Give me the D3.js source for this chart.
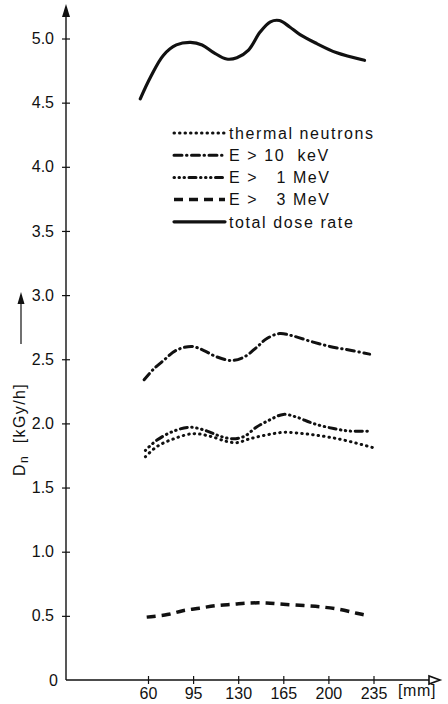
<!DOCTYPE html>
<html>
<head>
<meta charset="utf-8">
<script src="https://cdn.jsdelivr.net/npm/d3@7/dist/d3.min.js"></script>
<style>
  body { margin: 0; background: #fff; }
  svg { display: block; font-family: 'Liberation Sans', Arial, sans-serif; }
  text { fill: #111; }
</style>
</head>
<body>
<svg id="chart" width="448" height="704"></svg>
<script>
'use strict';

// tick values and their printed labels
var xTicks = [60, 95, 130, 165, 200, 235];
var yTicks = [0, 0.5, 1, 1.5, 2, 2.5, 3, 3.5, 4, 4.5, 5];
var yTickLabels = ['0', '0.5', '1.0', '1.5', '2.0', '2.5', '3.0', '3.5', '4.0', '4.5', '5.0'];

// dose rate curves (position in mm, dose in kGy/h)
var totalPos = [54, 62, 72, 82, 93, 102, 111, 121, 129, 138, 147, 155, 162, 170, 178, 191, 206, 228];
var totalDose = [4.53, 4.70, 4.87, 4.95, 4.97, 4.95, 4.89, 4.84, 4.85, 4.91, 5.05, 5.13, 5.14, 5.09, 5.03, 4.96, 4.89, 4.83];

var kev10Pos = [57, 64, 72, 82, 94, 103, 113, 125, 135, 144, 152, 162, 173, 186, 201, 217, 232];
var kev10Dose = [2.34, 2.42, 2.49, 2.57, 2.60, 2.57, 2.52, 2.49, 2.52, 2.59, 2.66, 2.70, 2.68, 2.64, 2.60, 2.57, 2.54];

var mev1Pos = [58, 67, 80, 93, 106, 116, 126, 135, 144, 155, 165, 175, 188, 204, 217, 231];
var mev1Dose = [1.79, 1.87, 1.94, 1.97, 1.94, 1.90, 1.88, 1.90, 1.97, 2.03, 2.07, 2.05, 2.00, 1.96, 1.94, 1.94];

var thermalPos = [58, 67, 80, 95, 108, 121, 129, 139, 152, 165, 181, 196, 212, 235];
var thermalDose = [1.74, 1.82, 1.88, 1.92, 1.90, 1.86, 1.85, 1.88, 1.91, 1.93, 1.92, 1.90, 1.87, 1.81];

var mev3Pos = [59, 75, 87, 100, 113, 126, 139, 152, 165, 181, 194, 209, 222, 232];
var mev3Dose = [0.49, 0.51, 0.54, 0.56, 0.58, 0.59, 0.60, 0.60, 0.59, 0.58, 0.57, 0.55, 0.52, 0.50];

var legendLabels = ['thermal neutrons', 'E > 10  keV', 'E >   1 MeV', 'E >   3 MeV', 'total dose rate'];

// line styles, in legend order
var styles = [
  { dash: '0.5,5', width: 3, cap: 'round' },
  { dash: '8,4.5,0.5,4.5', width: 3, cap: 'round' },
  { dash: '0.5,4.5,0.5,4.5,0.5,4.5,7,4.5', width: 3, cap: 'round' },
  { dash: '9,6', width: 3.5, cap: 'butt' },
  { dash: null, width: 3.2, cap: 'round' }
];

var series = [
  { pos: thermalPos, dose: thermalDose, style: styles[0] },
  { pos: kev10Pos, dose: kev10Dose, style: styles[1] },
  { pos: mev1Pos, dose: mev1Dose, style: styles[2] },
  { pos: mev3Pos, dose: mev3Dose, style: styles[3] },
  { pos: totalPos, dose: totalDose, style: styles[4] }
];

var svg = d3.select('#chart');

var axisX = 66, axisY = 680;

var x = d3.scaleLinear().domain([60, 235]).range([148, 373.5]);
var y = d3.scaleLinear().domain([0, 5]).range([680, 38.5]);

var ink = '#111';

// axis lines with arrow heads
svg.append('line')
  .attr('x1', axisX).attr('y1', axisY)
  .attr('x2', axisX).attr('y2', 14)
  .attr('stroke', ink).attr('stroke-width', 1.4);
svg.append('path')
  .attr('d', 'M' + axisX + ',4L' + (axisX - 4) + ',17L' + (axisX + 4) + ',17Z')
  .attr('fill', ink);

svg.append('line')
  .attr('x1', axisX).attr('y1', axisY)
  .attr('x2', 432).attr('y2', axisY)
  .attr('stroke', ink).attr('stroke-width', 1.4);
svg.append('path')
  .attr('d', 'M440,' + axisY + 'L429,' + (axisY - 4) + 'L429,' + (axisY + 4) + 'Z')
  .attr('fill', '#fff').attr('stroke', ink).attr('stroke-width', 1.6);

// y ticks: short crosses through the axis
var yAxis = d3.axisLeft(y)
  .tickValues(yTicks.slice(1))
  .tickSize(4)
  .tickPadding(8)
  .tickFormat(function (d) { return yTickLabels[yTicks.indexOf(d)]; });

var gy = svg.append('g').attr('transform', 'translate(' + axisX + ',0)').call(yAxis);
gy.select('.domain').remove();
gy.selectAll('.tick line').attr('x1', 4).attr('stroke', ink).attr('stroke-width', 1.2);
gy.selectAll('.tick text').attr('font-size', 16).attr('font-family', null).attr('fill', ink);

svg.append('text')
  .attr('x', axisX - 8).attr('y', y(0))
  .attr('dy', '0.35em')
  .attr('text-anchor', 'end')
  .attr('font-size', 16)
  .text(yTickLabels[0]);

// x ticks
var xAxis = d3.axisBottom(x)
  .tickValues(xTicks)
  .tickSize(4)
  .tickPadding(4)
  .tickFormat(d3.format('d'));

var gx = svg.append('g').attr('transform', 'translate(0,' + axisY + ')').call(xAxis);
gx.select('.domain').remove();
gx.selectAll('.tick line').attr('y1', -4).attr('stroke', ink).attr('stroke-width', 1.2);
gx.selectAll('.tick text').attr('font-size', 16).attr('font-family', null).attr('fill', ink);

svg.append('text')
  .attr('x', 398).attr('y', 696)
  .attr('font-size', 16)
  .attr('letter-spacing', 0.6)
  .text('[mm]');

// y axis title, rotated, with the little arrow above it
var title = svg.append('text')
  .attr('transform', 'translate(25,476) rotate(-90)')
  .attr('font-size', 16)
  .attr('letter-spacing', 1.4)
  .style('white-space', 'pre');
title.append('tspan').text('D');
title.append('tspan').attr('font-size', 12).attr('dy', 3).text('n');
title.append('tspan').attr('dy', -3).text('  [kGy/h]');

svg.append('line')
  .attr('x1', 21).attr('y1', 344)
  .attr('x2', 21).attr('y2', 302)
  .attr('stroke', ink).attr('stroke-width', 1.2);
svg.append('path')
  .attr('d', 'M21,292L17.5,304L24.5,304Z')
  .attr('fill', ink);

// curves
var line = d3.line()
  .x(function (d) { return x(d[0]); })
  .y(function (d) { return y(d[1]); })
  .curve(d3.curveCatmullRom.alpha(0.5));

svg.append('g')
  .selectAll('path')
  .data(series)
  .join('path')
  .attr('d', function (s) { return line(d3.zip(s.pos, s.dose)); })
  .attr('fill', 'none')
  .attr('stroke', ink)
  .attr('stroke-width', function (s) { return s.style.width; })
  .attr('stroke-linecap', function (s) { return s.style.cap; })
  .attr('stroke-dasharray', function (s) { return s.style.dash; });

// legend
var legend = svg.append('g').attr('transform', 'translate(173,133)');

var rows = legend.selectAll('g')
  .data(legendLabels)
  .join('g')
  .attr('transform', function (d, i) { return 'translate(0,' + (i * 22.2) + ')'; });

rows.append('line')
  .attr('x1', 1).attr('x2', 52)
  .attr('y1', 0).attr('y2', 0)
  .attr('stroke', ink)
  .attr('stroke-width', function (d, i) { return styles[i].width; })
  .attr('stroke-linecap', function (d, i) { return styles[i].cap; })
  .attr('stroke-dasharray', function (d, i) { return styles[i].dash; });

rows.append('text')
  .attr('x', 56)
  .attr('dy', '0.36em')
  .attr('font-size', 16)
  .attr('letter-spacing', 1.6)
  .style('white-space', 'pre')
  .text(function (d) { return d; });
</script>
</body>
</html>
